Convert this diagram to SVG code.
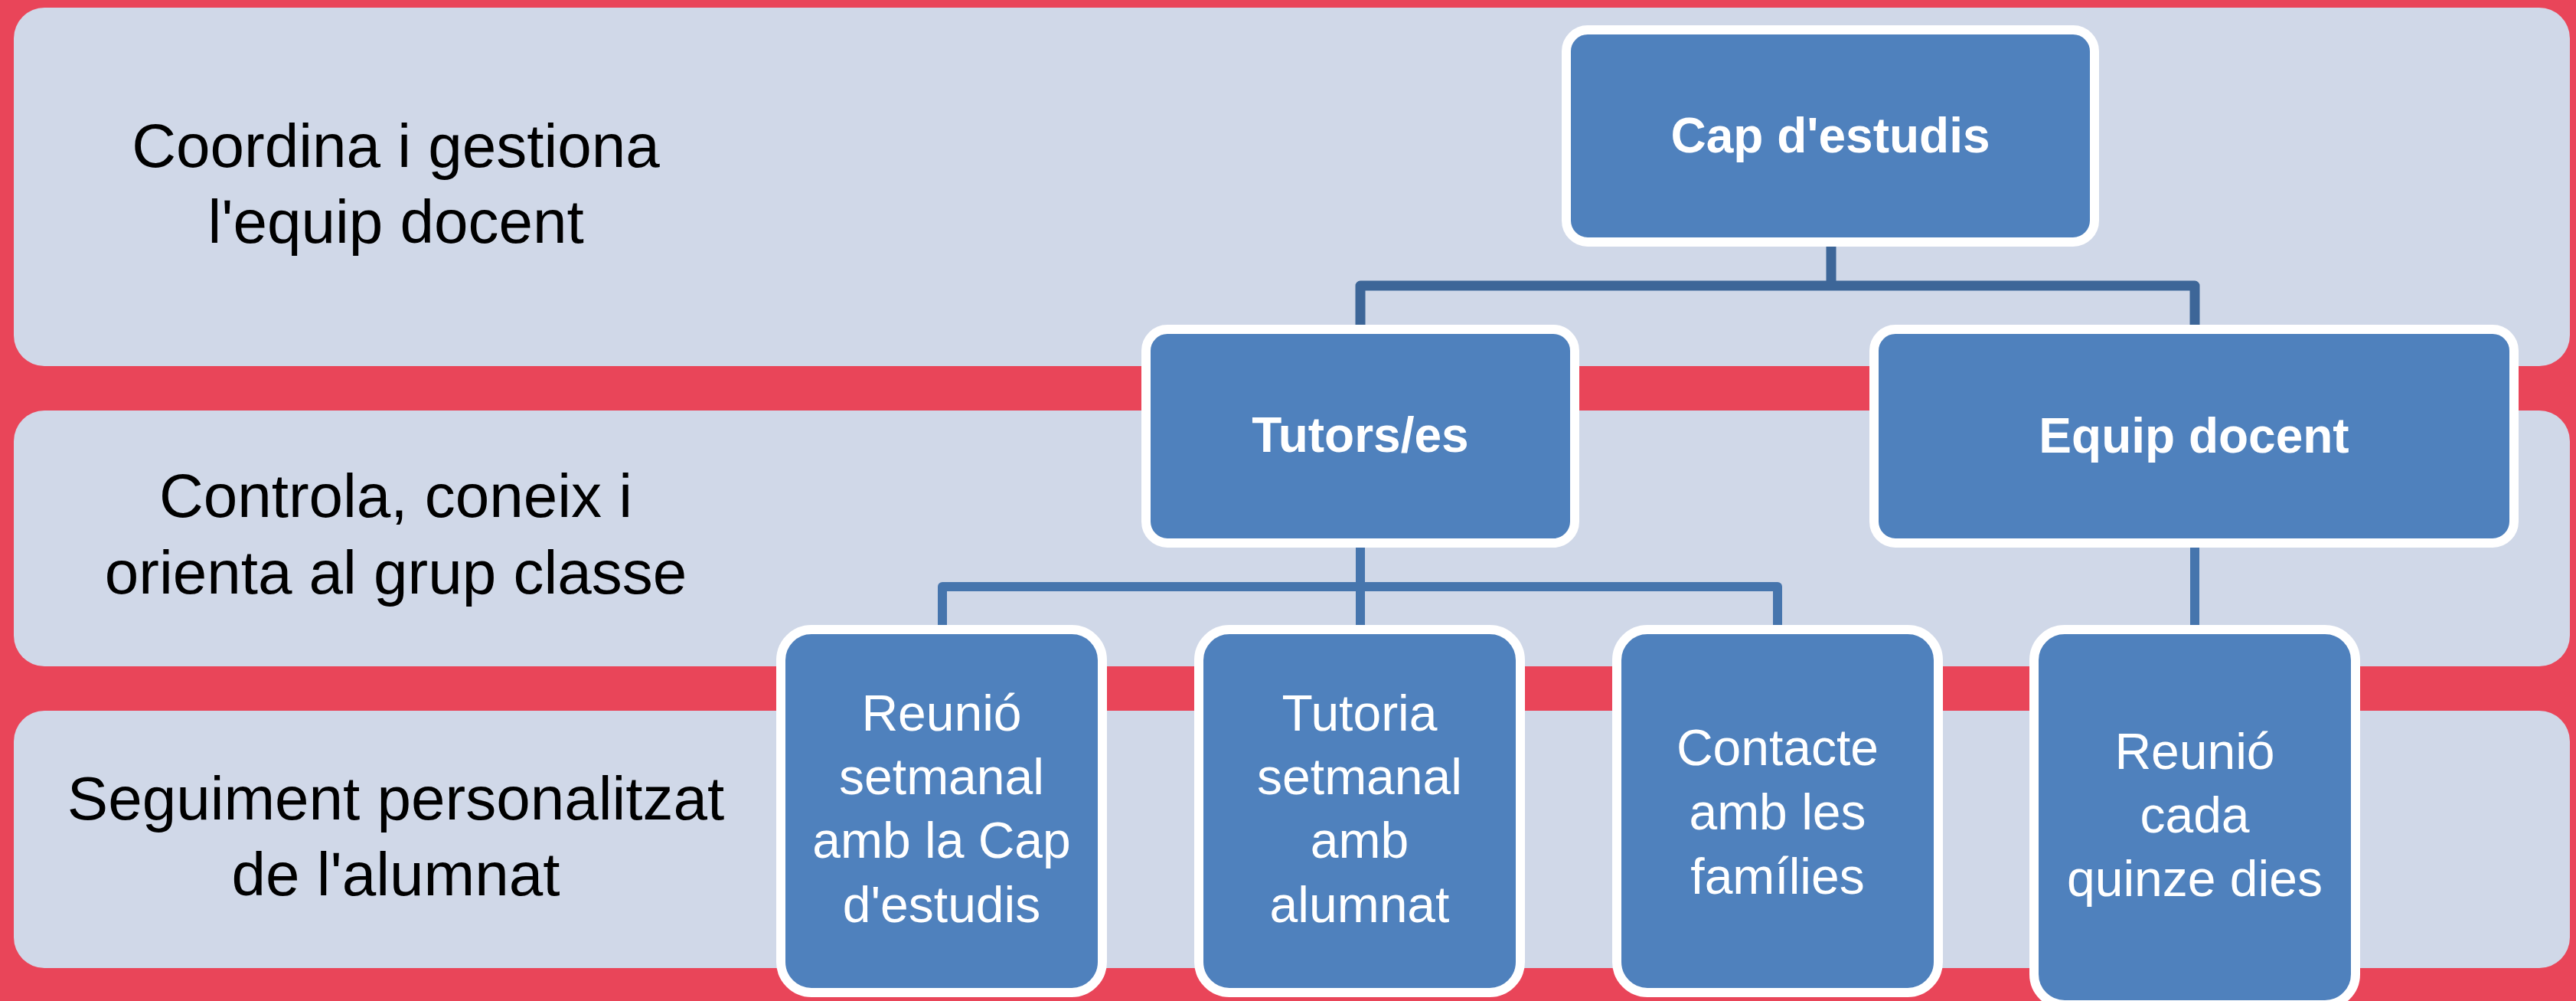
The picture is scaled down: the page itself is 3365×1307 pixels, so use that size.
<svg xmlns="http://www.w3.org/2000/svg" width="3365" height="1307" viewBox="0 0 3365 1307">
  <style>
    .band { fill: #D0D8E8; }
    .lbl { font-family: "Liberation Sans", Arial, sans-serif; font-size: 80px; fill: #000000; text-anchor: middle; }
    .node { fill: #4F81BD; stroke: #FFFFFF; stroke-width: 12; }
    .ttl { font-family: "Liberation Sans", Arial, sans-serif; font-size: 64px; font-weight: bold; fill: #FFFFFF; text-anchor: middle; }
    .txt { font-family: "Liberation Sans", Arial, sans-serif; font-size: 66px; fill: #FFFFFF; text-anchor: middle; }
    .conn1 { fill: none; stroke: #3D6698; stroke-width: 13; stroke-linejoin: round; }
    .conn2 { fill: none; stroke: #4675AD; stroke-width: 12; stroke-linejoin: round; }
  </style>
  <rect x="0" y="0" width="3365" height="1307" fill="#E94559"/>
  <g id="bands">
    <rect class="band" x="18" y="10" width="3339" height="468" rx="40"/>
    <rect class="band" x="18" y="536" width="3339" height="334" rx="40"/>
    <rect class="band" x="18" y="928" width="3339" height="336" rx="40"/>
  </g>
  <g id="labels">
    <text class="lbl" x="517" y="218">Coordina i gestiona</text>
    <text class="lbl" x="517" y="317">l'equip docent</text>
    <text class="lbl" x="517" y="675">Controla, coneix i</text>
    <text class="lbl" x="517" y="775">orienta al grup classe</text>
    <text class="lbl" x="517" y="1070">Seguiment personalitzat</text>
    <text class="lbl" x="517" y="1169">de l'alumnat</text>
  </g>
  <g id="connectors">
    <path class="conn1" d="M2392 316 V373 M1777 430 V373 H2867 V430"/>
    <path class="conn2" d="M1777 709 V766 M1231 822 V766 H2322 V822 M1777 766 V822"/>
    <path class="conn2" d="M2867 709 V822"/>
  </g>
  <g id="cap">
    <rect class="node" x="2046" y="39" width="690" height="277" rx="28"/>
    <text class="ttl" x="2391" y="199">Cap d'estudis</text>
  </g>
  <g id="tutors">
    <rect class="node" x="1497" y="430" width="560" height="279" rx="28"/>
    <text class="ttl" x="1777" y="590">Tutors/es</text>
  </g>
  <g id="equip">
    <rect class="node" x="2448" y="430" width="836" height="279" rx="28"/>
    <text class="ttl" x="2866" y="591">Equip docent</text>
  </g>
  <g id="reunio-setmanal">
    <rect class="node" x="1020" y="822" width="420" height="474" rx="40"/>
    <text class="txt" x="1230" y="954">Reunió</text>
    <text class="txt" x="1230" y="1037">setmanal</text>
    <text class="txt" x="1230" y="1120">amb la Cap</text>
    <text class="txt" x="1230" y="1204">d'estudis</text>
  </g>
  <g id="tutoria">
    <rect class="node" x="1566" y="822" width="420" height="474" rx="40"/>
    <text class="txt" x="1776" y="954">Tutoria</text>
    <text class="txt" x="1776" y="1037">setmanal</text>
    <text class="txt" x="1776" y="1120">amb</text>
    <text class="txt" x="1776" y="1204">alumnat</text>
  </g>
  <g id="contacte">
    <rect class="node" x="2112" y="822" width="420" height="474" rx="40"/>
    <text class="txt" x="2322" y="999">Contacte</text>
    <text class="txt" x="2322" y="1083">amb les</text>
    <text class="txt" x="2322" y="1167">famílies</text>
  </g>
  <g id="reunio-quinze">
    <rect class="node" x="2657" y="822" width="420" height="490" rx="40"/>
    <text class="txt" x="2867" y="1004">Reunió</text>
    <text class="txt" x="2867" y="1087">cada</text>
    <text class="txt" x="2867" y="1170">quinze dies</text>
  </g>
</svg>
